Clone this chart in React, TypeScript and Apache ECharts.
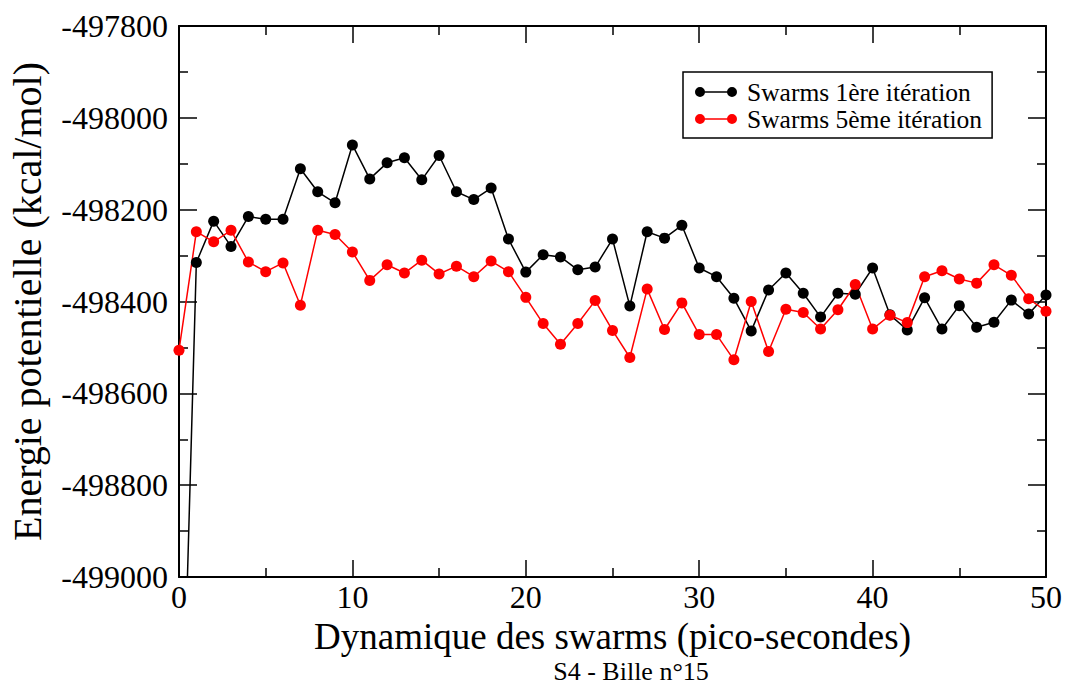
import React, { useEffect, useRef } from "react";
import * as echarts from "echarts";

const FONT = "Liberation Serif";

const xValues: number[] = Array.from({ length: 51 }, (_, i) => i);

const swarms1: number[] = [
  -499650, -498315, -498225, -498280, -498215, -498221, -498221, -498111, -498161, -498185,
  -498059, -498133, -498098, -498087, -498135, -498082, -498161, -498178, -498153, -498264,
  -498336, -498298, -498303, -498331, -498325, -498264, -498410, -498248, -498262, -498234,
  -498327, -498346, -498393, -498464, -498375, -498338, -498382, -498434, -498382, -498384,
  -498327, -498429, -498462, -498392, -498460, -498409, -498456, -498445, -498397, -498427,
  -498386,
];

const swarms5: number[] = [
  -498506, -498248, -498270, -498245, -498314, -498335, -498316, -498408, -498245, -498254,
  -498292, -498354, -498320, -498338, -498310, -498340, -498323, -498346, -498312, -498335,
  -498391, -498448, -498493, -498448, -498398, -498463, -498522, -498373, -498461, -498403,
  -498472, -498472, -498527, -498400, -498509, -498417, -498424, -498460, -498418, -498363,
  -498460, -498430, -498446, -498346, -498333, -498351, -498360, -498320, -498343, -498394,
  -498421,
];

const seriesNames = ["Swarms 1ère itération", "Swarms 5ème itération"];
const seriesColors = ["#000000", "#ff0000"];

const xTitle = "Dynamique des swarms (pico-secondes)";
const yTitle = "Energie potentielle (kcal/mol)";
const subtitle = "S4 - Bille n°15";

const X_MIN = 0, X_MAX = 50, X_STEP = 10;
const Y_MIN = -499000, Y_MAX = -497800, Y_STEP = 200;

const legendIcon =
  "path://M0,5a5,5 0 1,1 10,0a5,5 0 1,1 -10,0zM5,4.3h32v1.4h-32zM32,5a5,5 0 1,1 10,0a5,5 0 1,1 -10,0z";

export default function App() {
  const ref = useRef<HTMLDivElement>(null);

  useEffect(() => {
    if (!ref.current) return;
    const chart = echarts.init(ref.current, null, { renderer: "svg" });

    const tickStyle = { color: "#000", width: 1.5 };
    const axisLine = { show: true, onZero: false, lineStyle: { color: "#000", width: 2 } };
    const tickRich = { t: { fontFamily: FONT, fontSize: 32, color: "#000", fontWeight: "normal" } };

    const xBase = {
      type: "value" as const,
      min: X_MIN,
      max: X_MAX,
      interval: X_STEP,
      gridIndex: 0,
      axisLine,
      axisTick: { show: true, inside: true, length: 17, lineStyle: tickStyle },
      minorTick: { show: true, splitNumber: 2, length: 9, lineStyle: tickStyle },
      splitLine: { show: false },
      minorSplitLine: { show: false },
    };
    const yBase = {
      type: "value" as const,
      min: Y_MIN,
      max: Y_MAX,
      interval: Y_STEP,
      gridIndex: 0,
      axisLine,
      axisTick: { show: true, inside: true, length: 18, lineStyle: tickStyle },
      minorTick: { show: true, splitNumber: 2, length: 9, lineStyle: tickStyle },
      splitLine: { show: false },
      minorSplitLine: { show: false },
    };

    chart.setOption({
      animation: false,
      backgroundColor: "#ffffff",
      textStyle: { fontFamily: FONT, color: "#000" },
      grid: {
        left: 179,
        top: 26,
        width: 867,
        height: 551,
        containLabel: false,
        outerBoundsMode: "none",
      },
      xAxis: [
        {
          ...xBase,
          position: "bottom",
          axisLabel: {
            color: "#000",
            fontFamily: FONT,
            fontSize: 32,
            margin: 4,
            formatter: (v: number) => `{t|${v}}`,
            rich: tickRich,
          },
          name: `{n|${xTitle}}`,
          nameLocation: "middle",
          nameGap: 37,
          nameTextStyle: {
            color: "#000",
            fontFamily: FONT,
            fontSize: 37,
            rich: { n: { fontFamily: FONT, fontSize: 37, color: "#000" } },
          },
        },
        { ...xBase, position: "top", axisLabel: { show: false } },
      ],
      yAxis: [
        {
          ...yBase,
          position: "left",
          axisLabel: {
            color: "#000",
            fontFamily: FONT,
            fontSize: 32,
            margin: 11,
            formatter: (v: number) => `{t|${v}}`,
            rich: tickRich,
          },
          name: `{n|${yTitle}}`,
          nameLocation: "middle",
          nameGap: 132,
          nameTextStyle: {
            color: "#000",
            fontFamily: FONT,
            fontSize: 40,
            rich: { n: { fontFamily: FONT, fontSize: 40, color: "#000" } },
          },
        },
        { ...yBase, position: "right", axisLabel: { show: false } },
      ],
      legend: {
        orient: "vertical",
        left: 683,
        top: 72,
        itemWidth: 42,
        itemHeight: 10,
        itemGap: 1,
        padding: [7, 10, 6, 12],
        borderColor: "#000",
        borderWidth: 1.5,
        icon: legendIcon,
        itemStyle: { borderWidth: 0 },
        textStyle: { color: "#000", fontFamily: FONT, fontSize: 25.5, lineHeight: 25, padding: [0, 0, 0, 5] },
        data: seriesNames,
      },
      graphic: [
        {
          type: "text",
          x: 631,
          y: 671,
          style: {
            text: subtitle,
            fill: "#000",
            font: `26px "${FONT}"`,
            textAlign: "center",
            textVerticalAlign: "middle",
          },
        },
      ],
      series: [swarms1, swarms5].map((vals, i) => ({
        name: seriesNames[i],
        type: "line",
        xAxisIndex: 0,
        yAxisIndex: 0,
        data: xValues.map((x, j) => [x, vals[j]]),
        symbol: "circle",
        symbolSize: 11,
        showAllSymbol: true,
        clip: true,
        lineStyle: { color: seriesColors[i], width: 1.5 },
        itemStyle: { color: seriesColors[i], borderWidth: 0 },
        emphasis: { disabled: true },
      })),
    });

    return () => chart.dispose();
  }, []);

  return (
    <div
      ref={ref}
      style={{ position: "fixed", left: 0, top: 0, width: 1067, height: 686, background: "#fff" }}
    />
  );
}
